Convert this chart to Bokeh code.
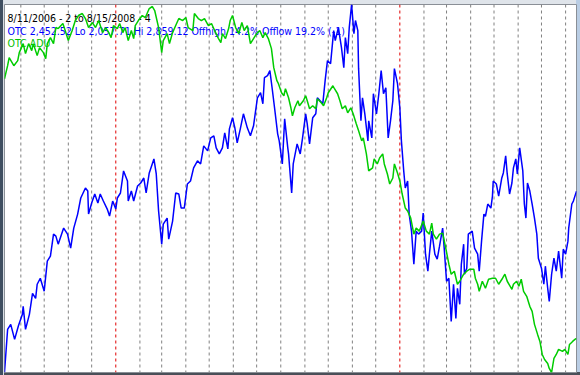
import pandas as pd
from bokeh.plotting import figure
from bokeh.models import Range1d, Span, Label
from bokeh.embed import file_html
from bokeh.resources import INLINE

# ---------------- data ----------------
title_line = "8/11/2006 - 2 to 8/15/2008 - 4"
otc_line = "OTC 2,452.52 Lo 2,057.71 Hi 2,859.12  Offhigh 14.2%  Offlow 19.2% (-1)"
adl_line = "OTC ADU"

otc_low = 2057.71
otc_high = 2859.12

otc_dates = [
    "2006-08-11", "2006-08-15", "2006-08-19", "2006-08-24", "2006-08-29", "2006-09-03", "2006-09-04",
    "2006-09-07", "2006-09-12", "2006-09-16", "2006-09-20", "2006-09-22", "2006-09-26", "2006-10-01",
    "2006-10-05", "2006-10-09", "2006-10-13", "2006-10-16", "2006-10-19", "2006-10-26", "2006-10-31",
    "2006-11-04", "2006-11-08", "2006-11-13", "2006-11-17", "2006-11-23", "2006-11-26", "2006-11-27",
    "2006-12-01", "2006-12-05", "2006-12-09", "2006-12-12", "2006-12-16", "2006-12-21", "2006-12-24",
    "2006-12-28", "2007-01-01", "2007-01-03", "2007-01-07", "2007-01-11", "2007-01-16", "2007-01-17",
    "2007-01-21", "2007-01-24", "2007-01-29", "2007-02-02", "2007-02-06", "2007-02-09", "2007-02-13",
    "2007-02-19", "2007-02-22", "2007-02-25", "2007-03-01", "2007-03-03", "2007-03-08", "2007-03-10",
    "2007-03-15", "2007-03-19", "2007-03-23", "2007-03-26", "2007-03-30", "2007-04-03", "2007-04-07",
    "2007-04-11", "2007-04-16", "2007-04-20", "2007-04-24", "2007-04-29", "2007-05-03", "2007-05-07",
    "2007-05-10", "2007-05-14", "2007-05-18", "2007-05-21", "2007-05-25", "2007-05-27", "2007-05-31",
    "2007-06-03", "2007-06-06", "2007-06-10", "2007-06-14", "2007-06-19", "2007-06-23", "2007-06-27",
    "2007-07-02", "2007-07-06", "2007-07-09", "2007-07-11", "2007-07-15", "2007-07-18", "2007-07-21",
    "2007-07-24", "2007-07-28", "2007-07-30", "2007-08-03", "2007-08-06", "2007-08-10", "2007-08-11",
    "2007-08-15", "2007-08-17", "2007-08-22", "2007-08-26", "2007-08-29", "2007-09-02", "2007-09-04",
    "2007-09-07", "2007-09-11", "2007-09-15", "2007-09-17", "2007-09-24", "2007-09-27", "2007-09-30",
    "2007-10-04", "2007-10-08", "2007-10-10", "2007-10-14", "2007-10-18", "2007-10-21", "2007-10-23",
    "2007-10-26", "2007-10-28", "2007-10-31", "2007-11-03", "2007-11-05", "2007-11-08", "2007-11-09",
    "2007-11-12", "2007-11-14", "2007-11-17", "2007-11-21", "2007-11-22", "2007-11-26", "2007-11-28",
    "2007-12-02", "2007-12-05", "2007-12-08", "2007-12-11", "2007-12-14", "2007-12-17", "2007-12-20",
    "2007-12-23", "2007-12-25", "2007-12-29", "2008-01-01", "2008-01-03", "2008-01-06", "2008-01-08",
    "2008-01-11", "2008-01-13", "2008-01-16", "2008-01-19", "2008-01-22", "2008-01-25", "2008-01-29",
    "2008-01-31", "2008-02-03", "2008-02-06", "2008-02-08", "2008-02-11", "2008-02-15", "2008-02-18",
    "2008-02-21", "2008-02-25", "2008-02-27", "2008-03-01", "2008-03-04", "2008-03-07", "2008-03-10",
    "2008-03-13", "2008-03-15", "2008-03-18", "2008-03-20", "2008-03-23", "2008-03-24", "2008-03-27",
    "2008-03-29", "2008-04-03", "2008-04-06", "2008-04-10", "2008-04-12", "2008-04-15", "2008-04-18",
    "2008-04-20", "2008-04-23", "2008-04-27", "2008-04-29", "2008-04-30", "2008-05-04", "2008-05-07",
    "2008-05-11", "2008-05-13", "2008-05-16", "2008-05-18", "2008-05-21", "2008-05-24", "2008-05-26",
    "2008-05-29", "2008-05-31", "2008-06-03", "2008-06-07", "2008-06-09", "2008-06-11", "2008-06-13",
    "2008-06-16", "2008-06-19", "2008-06-22", "2008-06-25", "2008-06-27", "2008-07-01", "2008-07-04",
    "2008-07-06", "2008-07-09", "2008-07-11", "2008-07-14", "2008-07-17", "2008-07-20", "2008-07-23",
    "2008-07-27", "2008-07-29", "2008-08-01", "2008-08-04", "2008-08-05", "2008-08-09", "2008-08-11",
    "2008-08-15",
]
otc_close = [
    2057.7, 2151.6, 2162.5, 2129.8, 2160.0, 2184.4, 2201.8,
    2151.6, 2184.4, 2230.2, 2219.3, 2249.9, 2263.0, 2234.6,
    2300.1, 2311.0, 2359.1, 2354.7, 2337.2, 2372.2, 2359.1,
    2328.5, 2372.2, 2402.7, 2437.7, 2459.5, 2452.9, 2402.7,
    2426.7, 2446.4, 2426.7, 2446.4, 2431.1, 2413.6, 2398.4,
    2431.1, 2413.6, 2437.7, 2448.6, 2496.6, 2474.8, 2431.1,
    2452.9, 2431.1, 2463.9, 2470.4, 2481.3, 2448.6, 2492.3,
    2522.8, 2490.1, 2409.3, 2337.2, 2380.9, 2394.0, 2348.1,
    2387.4, 2448.6, 2446.4, 2415.8, 2415.8, 2468.2, 2474.8,
    2503.2, 2518.5, 2511.9, 2551.2, 2540.3, 2568.7, 2573.1,
    2546.8, 2533.7, 2546.8, 2579.6, 2544.7, 2588.3, 2612.4,
    2590.5, 2557.8, 2588.3, 2621.1, 2590.5, 2573.1, 2594.9,
    2656.0, 2667.0, 2642.9, 2699.7, 2704.1, 2715.0, 2675.7,
    2634.2, 2577.4, 2562.1, 2511.9, 2610.2, 2546.8, 2533.7,
    2448.6, 2511.9, 2555.6, 2533.7, 2568.7, 2621.1, 2599.3,
    2555.6, 2612.4, 2621.1, 2656.0, 2642.9, 2693.2, 2736.8,
    2730.3, 2802.3, 2780.5, 2808.9, 2765.2, 2721.5, 2787.1,
    2752.1, 2808.9, 2859.1, 2795.8, 2824.2, 2802.3, 2719.4,
    2605.8, 2656.0, 2621.1, 2562.1, 2605.8, 2568.7, 2664.8,
    2621.1, 2664.8, 2715.0, 2664.8, 2677.9, 2568.7, 2605.8,
    2649.5, 2719.4, 2686.6, 2634.2, 2562.1, 2496.6, 2459.5,
    2474.8, 2402.7, 2365.6, 2293.5, 2365.6, 2359.1, 2365.6,
    2404.9, 2315.4, 2278.3, 2315.4, 2365.6, 2315.4, 2304.5,
    2332.8, 2372.2, 2328.5, 2256.4, 2263.0, 2169.1, 2249.9,
    2175.6, 2241.1, 2206.2, 2293.5, 2337.2, 2271.7, 2284.8,
    2359.1, 2365.6, 2328.5, 2315.4, 2278.3, 2343.8, 2402.7,
    2398.0, 2424.6, 2415.8, 2442.0, 2474.8, 2468.2, 2442.0,
    2481.3, 2492.3, 2529.4, 2490.1, 2446.4, 2470.4, 2503.2,
    2522.8, 2490.1, 2546.8, 2496.6, 2424.6, 2394.0, 2470.4,
    2452.9, 2424.6, 2394.0, 2359.1, 2306.6, 2284.8, 2249.9,
    2289.2, 2241.1, 2212.7, 2271.7, 2306.6, 2278.3, 2321.9,
    2263.0, 2326.3, 2315.4, 2343.8, 2372.2, 2424.6, 2431.1,
    2452.52,
]

adl_dates = [
    "2006-08-11", "2006-08-15", "2006-08-17", "2006-08-23", "2006-08-28", "2006-08-30", "2006-09-04",
    "2006-09-07", "2006-09-11", "2006-09-15", "2006-09-17", "2006-09-22", "2006-09-25", "2006-09-30",
    "2006-10-03", "2006-10-05", "2006-10-09", "2006-10-13", "2006-10-16", "2006-10-19", "2006-10-25",
    "2006-10-28", "2006-11-01", "2006-11-06", "2006-11-10", "2006-11-14", "2006-11-19", "2006-11-23",
    "2006-11-27", "2006-12-02", "2006-12-06", "2006-12-10", "2006-12-15", "2006-12-19", "2006-12-23",
    "2006-12-26", "2006-12-29", "2007-01-03", "2007-01-06", "2007-01-10", "2007-01-13", "2007-01-17",
    "2007-01-21", "2007-01-24", "2007-01-26", "2007-01-30", "2007-02-04", "2007-02-08", "2007-02-13",
    "2007-02-17", "2007-02-20", "2007-02-25", "2007-03-01", "2007-03-03", "2007-03-08", "2007-03-11",
    "2007-03-15", "2007-03-19", "2007-03-23", "2007-03-28", "2007-04-01", "2007-04-04", "2007-04-10",
    "2007-04-12", "2007-04-17", "2007-04-21", "2007-04-25", "2007-04-30", "2007-05-04", "2007-05-08",
    "2007-05-13", "2007-05-16", "2007-05-18", "2007-05-22", "2007-05-26", "2007-05-28", "2007-05-31",
    "2007-06-04", "2007-06-08", "2007-06-12", "2007-06-15", "2007-06-19", "2007-06-23", "2007-06-27",
    "2007-07-01", "2007-07-05", "2007-07-09", "2007-07-12", "2007-07-16", "2007-07-20", "2007-07-23",
    "2007-07-27", "2007-07-29", "2007-08-02", "2007-08-05", "2007-08-07", "2007-08-11", "2007-08-14",
    "2007-08-16", "2007-08-19", "2007-08-23", "2007-08-25", "2007-08-30", "2007-09-02", "2007-09-04",
    "2007-09-07", "2007-09-11", "2007-09-15", "2007-09-17", "2007-09-22", "2007-09-25", "2007-09-29",
    "2007-10-01", "2007-10-07", "2007-10-09", "2007-10-13", "2007-10-16", "2007-10-19", "2007-10-23",
    "2007-10-26", "2007-10-30", "2007-11-02", "2007-11-06", "2007-11-09", "2007-11-13", "2007-11-15",
    "2007-11-19", "2007-11-22", "2007-11-27", "2007-11-29", "2007-12-03", "2007-12-06", "2007-12-10",
    "2007-12-12", "2007-12-16", "2007-12-19", "2007-12-23", "2007-12-25", "2007-12-29", "2008-01-01",
    "2008-01-04", "2008-01-08", "2008-01-11", "2008-01-15", "2008-01-19", "2008-01-22", "2008-01-26",
    "2008-01-31", "2008-02-04", "2008-02-08", "2008-02-11", "2008-02-13", "2008-02-17", "2008-02-21",
    "2008-02-25", "2008-02-29", "2008-03-04", "2008-03-07", "2008-03-11", "2008-03-15", "2008-03-18",
    "2008-03-23", "2008-03-27", "2008-03-31", "2008-04-05", "2008-04-07", "2008-04-10", "2008-04-12",
    "2008-04-16", "2008-04-20", "2008-04-24", "2008-04-29", "2008-05-03", "2008-05-07", "2008-05-12",
    "2008-05-15", "2008-05-18", "2008-05-24", "2008-05-26", "2008-05-30", "2008-06-02", "2008-06-05",
    "2008-06-08", "2008-06-12", "2008-06-16", "2008-06-19", "2008-06-22", "2008-06-26", "2008-06-29",
    "2008-07-02", "2008-07-05", "2008-07-09", "2008-07-11", "2008-07-14", "2008-07-17", "2008-07-20",
    "2008-07-23", "2008-07-28", "2008-07-31", "2008-08-04", "2008-08-06", "2008-08-10", "2008-08-13",
    "2008-08-15",
]
adl_values = [
    293, 306, 314, 306, 311, 319, 328,
    318, 328, 321, 328, 316, 324, 319,
    313, 328, 334, 328, 344, 343, 348,
    341, 331, 341, 351, 356, 358, 353,
    344, 349, 344, 351, 339, 344, 339,
    334, 346, 343, 348, 339, 344, 331,
    341, 333, 346, 351, 356, 354, 363,
    365, 361, 344, 319, 331, 338, 328,
    339, 346, 353, 351, 354, 344, 341,
    358, 353, 351, 353, 346, 348, 341,
    333, 329, 338, 333, 343, 351, 356,
    344, 338, 349, 341, 346, 328, 333,
    338, 341, 334, 339, 333, 323, 304,
    291, 288, 279, 276, 283, 274, 264,
    256, 264, 271, 266, 271, 276, 271,
    263, 266, 263, 273, 269, 266, 274,
    279, 286, 283, 278, 271, 263, 266,
    259, 264, 258, 248, 241, 231, 234,
    218, 201, 204, 213, 208, 214, 218,
    208, 198, 188, 194, 208, 199, 191,
    178, 164, 161, 154, 138, 144, 141,
    151, 141, 138, 149, 138, 133, 138,
    139, 124, 108, 98, 101, 88, 91,
    98, 101, 103, 103, 94, 88, 81,
    91, 84, 93, 94, 94, 88, 94,
    98, 91, 83, 88, 91, 86, 93,
    81, 76, 66, 61, 48, 38, 31,
    18, 13, 9, 4, 0, 14, 18,
    23, 21, 23, 18, 28, 31, 33,
    34,
]
adl_low = 0
adl_high = 367

start_date = "2006-08-11"
end_date = "2008-08-15"
month_lines = [
    "2006-09-01", "2006-10-01", "2006-11-01", "2006-12-01",
    "2007-02-01", "2007-03-01", "2007-04-01", "2007-05-01", "2007-06-01",
    "2007-07-01", "2007-08-01", "2007-09-01", "2007-10-01", "2007-11-01", "2007-12-01",
    "2008-02-01", "2008-03-01", "2008-04-01", "2008-05-01", "2008-06-01",
    "2008-07-01", "2008-08-01",
]
year_lines = ["2007-01-01", "2008-01-01"]

# ---------------- figure ----------------
p = figure(
    width=580, height=375,
    x_range=Range1d(pd.Timestamp(start_date), pd.Timestamp(end_date)),
    y_range=Range1d(otc_low, otc_high),
    x_axis_location=None, y_axis_location=None,
    toolbar_location=None, output_backend="svg",
    min_border_left=4, min_border_right=4, min_border_top=4, min_border_bottom=3,
    background_fill_color="white",
    border_fill_alpha=0,
    outline_line_color="#8a8f96", outline_line_width=1,
)
p.styles = {
    "background": (
        "linear-gradient(to right, #3f4e60 0px, #3f4e60 3px, #d9dee4 3px, #d9dee4 4px, transparent 4px),"
        "linear-gradient(to top, #4a4f58 0px, #4a4f58 3px, transparent 3px),"
        "linear-gradient(to left, #b9cde4 0px, #b9cde4 4px, #dfe4ea 4px)"
    )
}
p.grid.visible = False
p.extra_y_ranges = {"adl": Range1d(adl_low, adl_high)}

for d in month_lines:
    p.add_layout(Span(location=pd.Timestamp(d), dimension="height",
                      line_color="#808080", line_dash="3 3", line_width=1, level="underlay"))
for d in year_lines:
    p.add_layout(Span(location=pd.Timestamp(d), dimension="height",
                      line_color="#e00000", line_dash="3 3", line_width=1, level="underlay"))

font = "'DejaVu Sans Condensed', 'Liberation Sans', sans-serif"
for txt, yy, col in [(title_line, 354.5, "black"), (otc_line, 342.0, "#0000ff"), (adl_line, 329.5, "#00c000")]:
    p.add_layout(Label(x=3, y=yy, x_units="screen", y_units="screen", text=txt,
                       text_font=font, text_font_size="10.5px", text_color=col,
                       text_baseline="alphabetic", level="underlay"))

p.line(pd.to_datetime(otc_dates), otc_close, line_color="#0000ff", line_width=1.5)
p.line(pd.to_datetime(adl_dates), adl_values, line_color="#00cc00", line_width=1.5,
       y_range_name="adl")

open("out.html", "w").write(file_html(p, INLINE))
